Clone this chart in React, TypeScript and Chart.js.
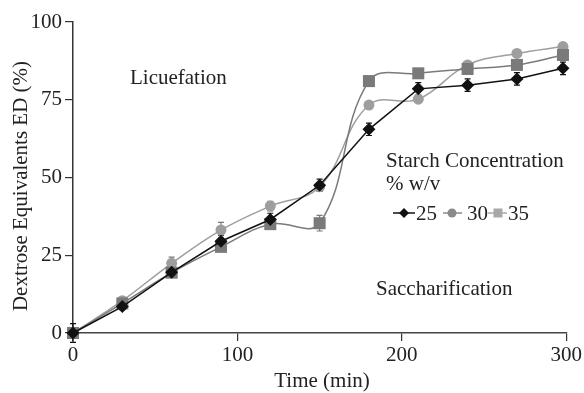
import React, { useEffect, useRef } from 'react';
import { Chart, registerables } from 'chart.js';
Chart.register(...registerables);

const times = [0, 30, 60, 90, 120, 150, 180, 210, 240, 270, 298];
const ed25 = [0, 8.5, 19.5, 29.5, 36.5, 47.5, 65.5, 78.5, 79.7, 81.7, 85.1];
const ed30 = [0, 10.4, 22.4, 33.1, 40.8, 47.0, 73.3, 75.2, 86.2, 89.9, 92.1];
const ed35 = [0, 9.5, 19.4, 27.7, 35.0, 35.3, 81.0, 83.5, 84.9, 86.2, 89.4];
const err25 = [3, 1, 1.5, 2, 2, 2, 2, 2, 2, 2, 2];
const err30 = [0.5, 1, 2, 2.5, 1.5, 1, 1, 1, 1, 1, 1];
const err35 = [0.5, 1, 1, 1, 1.5, 2.5, 1, 1, 1, 1, 1];
const seriesLabels = ['25', '30', '35'];
const xTicks = [0, 100, 200, 300];
const yTicks = [0, 25, 50, 75, 100];

const FONT = '"Liberation Serif", "Times New Roman", serif';
const C25 = '#111111';
const C30 = '#9e9e9e';
const C35 = '#7a7a7a';

export default function App() {
  const ref = useRef<HTMLCanvasElement>(null);
  useEffect(() => {
    const mk = (vals: number[]) => times.map((t, i) => ({ x: t, y: vals[i] }));
    const errs = [err25, err30, err35];
    const errColors = [C25, C35, C35];

    const errPlugin = {
      id: 'errbars',
      beforeDatasetsDraw(chart: any) {
        const ctx = chart.ctx;
        const xs = chart.scales.x;
        const ys = chart.scales.y;
        chart.data.datasets.forEach((ds: any, di: number) => {
          ctx.save();
          ctx.strokeStyle = errColors[di];
          ctx.lineWidth = 1.2;
          ds.data.forEach((p: any, i: number) => {
            const e = errs[di][i];
            const px = xs.getPixelForValue(p.x);
            const y1 = ys.getPixelForValue(p.y + e);
            const y2 = ys.getPixelForValue(p.y - e);
            ctx.beginPath();
            ctx.moveTo(px, y1);
            ctx.lineTo(px, y2);
            ctx.moveTo(px - 3, y1);
            ctx.lineTo(px + 3, y1);
            ctx.moveTo(px - 3, y2);
            ctx.lineTo(px + 3, y2);
            ctx.stroke();
          });
          ctx.restore();
        });
      },
    };

    const textPlugin = {
      id: 'texts',
      afterDraw(chart: any) {
        const ctx = chart.ctx;
        ctx.save();
        ctx.fillStyle = '#222';
        ctx.font = `21px ${FONT}`;
        ctx.textAlign = 'left';
        ctx.textBaseline = 'alphabetic';
        ctx.fillText('Licuefation', 130, 84);
        ctx.fillText('Saccharification', 376, 295);
        ctx.fillText('Starch Concentration', 386, 167);
        ctx.fillText('% w/v', 386, 190);
        // axis titles
        ctx.textAlign = 'center';
        ctx.fillText('Time (min)', 322, 387);
        ctx.save();
        ctx.translate(21, 186);
        ctx.rotate(-Math.PI / 2);
        ctx.textBaseline = 'middle';
        ctx.fillText('Dextrose Equivalents ED (%)', 0, 0);
        ctx.restore();
        // legend row
        const ly = 213;
        const items = [
          { x1: 393, x2: 415, mx: 404, tx: 416, color: C25, shape: 'diamond' },
          { x1: 443, x2: 462, mx: 452, tx: 467, color: '#8a8a8a', shape: 'circle' },
          { x1: 488, x2: 507, mx: 498, tx: 508, color: '#a8a8a8', shape: 'square' },
        ];
        items.forEach((it, i) => {
          ctx.strokeStyle = it.color;
          ctx.fillStyle = it.color;
          ctx.lineWidth = 1.5;
          ctx.beginPath();
          ctx.moveTo(it.x1, ly);
          ctx.lineTo(it.x2, ly);
          ctx.stroke();
          ctx.beginPath();
          if (it.shape === 'diamond') {
            ctx.moveTo(it.mx, ly - 5);
            ctx.lineTo(it.mx + 5, ly);
            ctx.lineTo(it.mx, ly + 5);
            ctx.lineTo(it.mx - 5, ly);
            ctx.closePath();
          } else if (it.shape === 'circle') {
            ctx.arc(it.mx, ly, 4.5, 0, Math.PI * 2);
          } else {
            ctx.rect(it.mx - 4.5, ly - 4.5, 9, 9);
          }
          ctx.fill();
          ctx.fillStyle = '#222';
          ctx.textAlign = 'left';
          ctx.textBaseline = 'alphabetic';
          ctx.fillText(seriesLabels[i], it.tx, 220);
        });
        ctx.restore();
      },
    };

    const tickFont = { family: FONT, size: 21 };
    const chart = new Chart(ref.current as HTMLCanvasElement, {
      type: 'line',
      data: {
        datasets: [
          {
            label: seriesLabels[0],
            data: mk(ed25),
            borderColor: C25,
            backgroundColor: C25,
            borderWidth: 1.5,
            pointStyle: 'rectRot',
            pointRadius: 6.5,
            pointBorderWidth: 0,
            tension: 0,
            clip: false,
            order: 0,
          },
          {
            label: seriesLabels[1],
            data: mk(ed30),
            borderColor: C30,
            backgroundColor: C30,
            borderWidth: 1.5,
            pointStyle: 'circle',
            pointRadius: 5.5,
            pointBorderWidth: 0,
            tension: 0.4,
            clip: false,
            order: 2,
          },
          {
            label: seriesLabels[2],
            data: mk(ed35),
            borderColor: C35,
            backgroundColor: C35,
            borderWidth: 1.5,
            pointStyle: 'rect',
            pointRadius: 8.5,
            pointBorderWidth: 0,
            tension: 0.4,
            clip: false,
            order: 1,
          },
        ],
      },
      options: {
        responsive: false,
        animation: false,
        layout: { padding: { top: 22, right: 17, left: 0, bottom: 0 } },
        plugins: { legend: { display: false }, tooltip: { enabled: false } },
        scales: {
          x: {
            type: 'linear',
            min: 0,
            max: 300,
            afterBuildTicks: (s: any) => {
              s.ticks = xTicks.map((v) => ({ value: v }));
            },
            afterFit: (s: any) => {
              s.height = 60;
            },
            grid: { display: true, drawOnChartArea: false, drawTicks: true, tickLength: 8, color: '#333', lineWidth: 1.2 },
            border: { display: true, color: '#444', width: 1.5 },
            ticks: { font: tickFont, color: '#222', padding: 2, maxRotation: 0 },
          },
          y: {
            type: 'linear',
            min: 0,
            max: 100,
            afterBuildTicks: (s: any) => {
              s.ticks = yTicks.map((v) => ({ value: v }));
            },
            afterFit: (s: any) => {
              s.width = 73;
            },
            grid: { display: true, drawOnChartArea: false, drawTicks: true, tickLength: 8, color: '#333', lineWidth: 1.2 },
            border: { display: true, color: '#333', width: 1.5 },
            ticks: { font: tickFont, color: '#222', padding: 3 },
          },
        },
      },
      plugins: [errPlugin, textPlugin],
    } as any);
    return () => chart.destroy();
  }, []);

  return (
    <div style={{ position: 'fixed', left: 0, top: 0, width: 584, height: 393, background: '#fff' }}>
      <canvas ref={ref} width={584} height={393} style={{ width: 584, height: 393, display: 'block' }} />
    </div>
  );
}
